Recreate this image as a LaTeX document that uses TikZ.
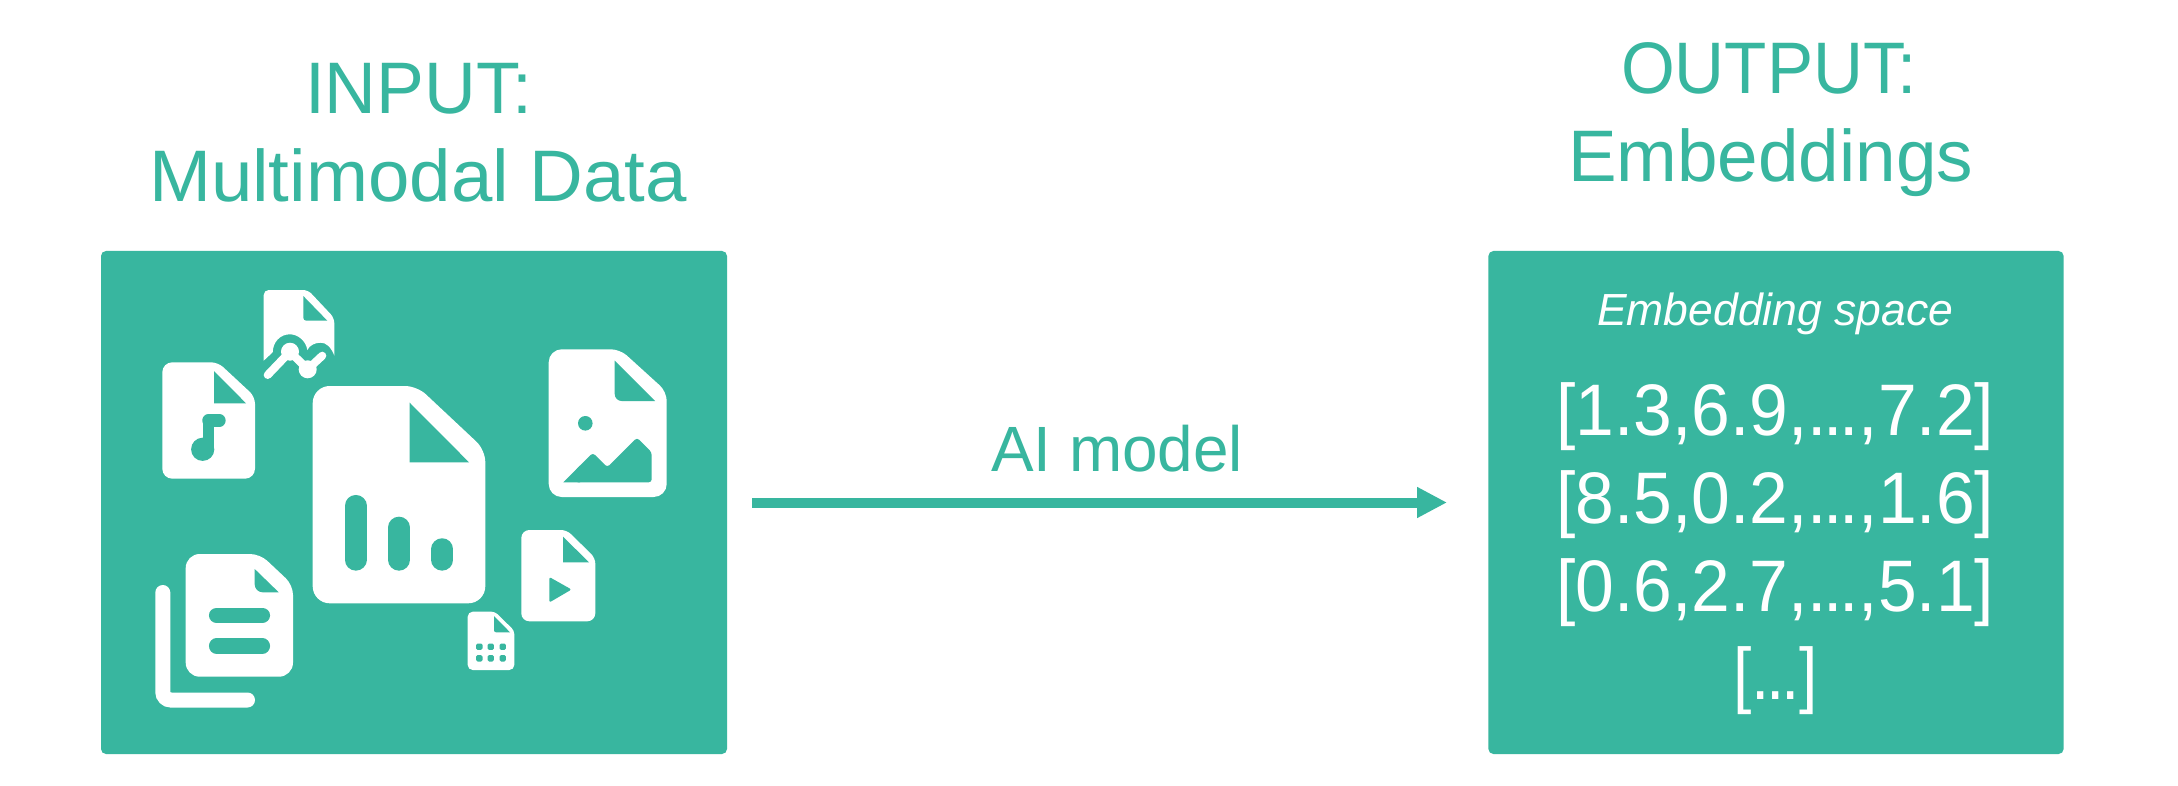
\documentclass[tikz,border=0pt]{standalone}
\usepackage{fontspec}
\usepackage{graphicx}
\usetikzlibrary{arrows.meta}
\setmainfont{Liberation Sans}
\definecolor{teal}{HTML}{38B69F}
\newcommand\fitx[2]{\resizebox{#1pt}{\height}{#2}}
\newcommand\tdots{.\kern-.05em.\kern-.05em.}
% x0 y0 x1 y1 chamfer-x chamfer-y radius
\newcommand\docbody[7]{\pgfmathsetmacro\rr{0.7*#7}\fill[white,rounded corners=#7pt] (#1,{(#2+#4)/2}) -- (#1,#2) [rounded corners=\rr pt] -- (#5,#2) -- (#3,#6) [rounded corners=#7pt] -- (#3,#4) -- (#1,#4) -- cycle;}
% fold: x y-top y-bottom x-right radius
\newcommand\foldtri[5]{\fill[teal] (#1,#2) -- (#1,#3-#5) arc[start angle=180,end angle=90,radius=#5] -- (#4,#3) -- cycle;}
\tikzset{
  x=1pt,y=-1pt,
  panel/.style={fill=teal,draw=none,rounded corners=5pt,inner sep=0pt,outer sep=0pt},
  title/.style={text=teal,inner sep=0pt,outer sep=0pt,anchor=base west,font=\fontsize{73}{80}\selectfont},
  vec/.style={text=white,inner sep=0pt,outer sep=0pt,anchor=base west,font=\fontsize{73}{80}\selectfont},
  conn/.style={draw=teal,line width=10pt,-{Triangle[length=30pt,width=29pt,inset=0pt]}},
  bar/.style={draw=teal,line cap=round},
}
\begin{document}
\begin{tikzpicture}
\useasboundingbox (0,0) rectangle (2178,786);
\fill[white] (0,0) rectangle (2178,786);
% panels
\node[panel,minimum width=626pt,minimum height=503pt] (inbox) at (414,502.5) {};
\node[panel,minimum width=575.2pt,minimum height=503pt] (outbox) at (1776,502.5) {};
% titles
\node[title] (t1) at (305,113.5) {\fitx{227}{INPUT:}};
\node[title] (t2) at (149,202) {\fitx{538}{Multimodal Data}};
\node[title] (t3) at (1621,93.5) {\fitx{296}{OUTPUT:}};
\node[title] (t4) at (1568,181.5) {\fitx{405}{Embeddings}};
% arrow
\node[text=teal,inner sep=0pt,anchor=base west,font=\fontsize{64}{70}\selectfont] (lab) at (991,471.5) {\fitx{252}{AI model}};
\draw[conn,shorten <=25pt,shorten >=41.4pt] (inbox) -- (outbox);
% right panel text
\node[text=white,inner sep=0pt,anchor=base west,font=\fontsize{45}{50}\selectfont\itshape] (sp) at (1597,325) {\fitx{356}{Embedding space}};
\node[vec] (v1) at (1556,435.5) {\fitx{438}{[1.3,6.9,\tdots,7.2]}};
\node[vec] (v2) at (1556,523.2) {\fitx{438}{[8.5,0.2,\tdots,1.6]}};
\node[vec] (v3) at (1556,611.2) {\fitx{438}{[0.6,2.7,\tdots,5.1]}};
\node[vec] (v4) at (1733,699.5) {\fitx{85}{[\tdots]}};
% big doc
\docbody{312.7}{386}{485.3}{603.3}{417}{450}{17}
\fill[teal] (409.7,402.7) -- (409.7,462.3) -- (469,462.3) -- cycle;
\draw[bar,line width=21.7pt] (355.7,505.8) -- (355.7,559.8);
\draw[bar,line width=21.7pt] (399,527.5) -- (399,559.8);
\draw[bar,line width=21.7pt] (442.3,549.1) -- (442.3,559.8);
% audio doc
\docbody{162.3}{362.3}{255}{478.7}{218}{396.7}{10}
\fill[teal] (214,371) -- (214,403.3) -- (246,403.3) -- cycle;
\fill[teal] (202.7,449.3) circle (11.6);
\draw[bar,line width=11.3pt,line cap=butt] (208.4,450) -- (208.4,420);
\draw[bar,line width=12.3pt] (208.4,420.5) -- (219.5,420.5);
% chart doc
\fill[white,rounded corners=5pt] (263.7,330) -- (263.7,290) -- (308,290) -- (334.3,318) -- (334.3,340) [sharp corners] -- (334.3,355.5) .. controls (331,347) and (326,342.7) .. (321,342.7) .. controls (315,342.7) and (310,345) .. (307.3,350) .. controls (306,341) and (298,334.3) .. (290,334.3) .. controls (280,334.3) and (273,342) .. (272.7,352.3) -- (263.7,360.7) -- cycle;
\foldtri{303.3}{296}{320.7}{327.3}{3}
\fill[white] (290,351.7) circle (9);
\fill[white] (307.7,369.3) circle (9);
\draw[white,line width=8pt,line cap=round,line join=round] (267.7,375) -- (290,351.7) -- (307.7,369.3) -- (322.3,355.7);
% image doc
\docbody{548.7}{349.3}{666.7}{497}{620}{391.7}{13}
\foldtri{614.7}{360.7}{401}{655}{7}
\fill[teal] (585.3,423.3) circle (7.3);
\fill[teal,rounded corners=3pt] (575,470.6) -- (592.8,452.8) -- (607.3,467.3) -- (637,437.6) -- (651.7,452.3) -- (651.7,482.3) -- (575,482.3) -- cycle;
\fill[teal] (563.3,482.3) -- (580,465.6) -- (580,482.3) -- cycle;
% copies doc
\docbody{185.7}{554}{293}{676.7}{260}{585}{14}
\foldtri{254.7}{569}{592.3}{278.7}{8}
\draw[bar,line width=15.3pt] (216.6,615.3) -- (262.4,615.3);
\draw[bar,line width=15.3pt] (216.6,646) -- (262.4,646);
\draw[white,line width=15pt,line cap=round,rounded corners=8pt] (162.8,592.5) -- (162.8,700) -- (247.5,700);
% video doc
\docbody{521.3}{530}{595.3}{621.3}{566.7}{558}{8}
\fill[teal] (563,536.7) -- (563,562.3) -- (589,562.3) -- cycle;
\fill[teal,rounded corners=2pt] (549.3,577) -- (571.5,589.5) -- (549.3,602.5) -- cycle;
% table doc
\docbody{467.7}{611.7}{514.3}{670}{495}{630.7}{5}
\foldtri{494}{616}{632.3}{510}{2}
\foreach \px in {479.3,490.7,502.7}{\foreach \py in {646.7,658.3}{
  \fill[teal,rounded corners=1.5pt] (\px-3.2,\py-3.2) rectangle (\px+3.2,\py+3.2);}}
\end{tikzpicture}
\end{document}
